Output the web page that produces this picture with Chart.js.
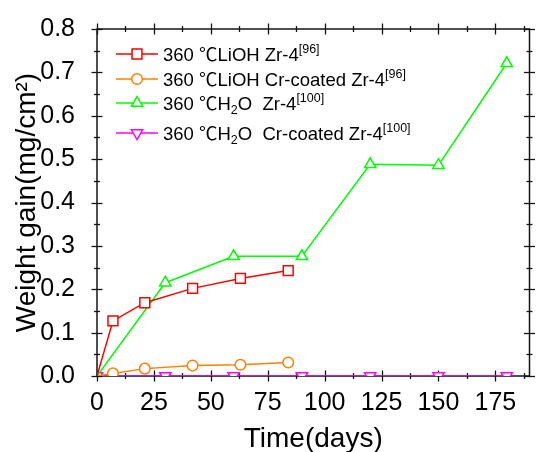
<!DOCTYPE html>
<html>
<head>
<meta charset="utf-8">
<script src="https://cdn.jsdelivr.net/npm/chart.js@4.4.1/dist/chart.umd.min.js"></script>
<style>
html, body { margin: 0; padding: 0; background: #fff; }
#wrap { width: 538px; height: 452px; }
</style>
</head>
<body>
<div id="wrap"><canvas id="graph" width="538" height="452"></canvas></div>
<script>
const red =     'rgb(255, 0, 0)'
const orange =  'rgb(255, 128, 0)'
const green =   'rgb(0, 255, 0)'
const magenta = 'rgb(255, 0, 255)'
const black =   'rgb(20, 20, 20)'
const family = '"Liberation Sans", Arial, "Noto Sans CJK SC", sans-serif'

// Time in days, LiOH runs [96] and water runs [100]
const daysLiOH = [0, 7, 21, 42, 63, 84]
const daysH2O = [0, 30, 60, 90, 120, 150, 180]

// Weight gain in mg/cm2
const gainLiOHZr4 = [0, 0.127, 0.169, 0.202, 0.225, 0.243]
const gainLiOHCr = [0, 0.006, 0.017, 0.024, 0.026, 0.031]
const gainH2OZr4 = [0, 0.215, 0.276, 0.276, 0.488, 0.486, 0.721]
const gainH2OCr = [0, 0, 0, 0, 0, 0, 0]

// axis ranges / tick steps
const xRange = [0, 190]
const xStep = 25
const yRange = [0, 0.8]
const yStep = 0.1

// legend text pieces: [text, 'n' | 'sup' | 'sub']
const legendLabels = [
    [['360 \u2103LiOH Zr-4', 'n'], ['[96]', 'sup']],
    [['360 \u2103LiOH Cr-coated Zr-4', 'n'], ['[96]', 'sup']],
    [['360 \u2103H', 'n'], ['2', 'sub'], ['O  Zr-4', 'n'], ['[100]', 'sup']],
    [['360 \u2103H', 'n'], ['2', 'sub'], ['O  Cr-coated Zr-4', 'n'], ['[100]', 'sup']],
]
const legendRowsY = [54, 79, 103, 133]

function toPoints(xs, ys) {
    return xs.map((x, i) => ({x: x, y: ys[i]}))
}

function series(label, xs, ys, color, style, radius, rotation, hideFirst) {
    return {
        label: label,
        data: toPoints(xs, ys),
        borderColor: color,
        backgroundColor: '#fff',
        borderWidth: 1.5,
        pointStyle: style,
        pointRotation: rotation,
        pointRadius: xs.map((x, i) => (hideFirst && i === 0) ? 0 : radius),
        pointBorderWidth: 1.5,
        pointBackgroundColor: '#fff',
        pointBorderColor: color,
        tension: 0,
        fill: false,
        clip: 0,
    }
}

//draws frame + crossing ticks on all four sides
const frameTicks = {
    id: 'frameTicks',
    beforeDatasetsDraw(chart) {
        const {ctx, chartArea: a, scales: {x, y}} = chart
        ctx.save()
        ctx.strokeStyle = black
        ctx.lineWidth = 1.5
        ctx.strokeRect(a.left, a.top, a.right - a.left, a.bottom - a.top)
        ctx.lineWidth = 1.3
        const major = 5.5, minor = 3
        const xs = x.ticks.map(t => t.value)
        const ys = y.ticks.map(t => t.value)
        const minorOf = (vals, step, max) => {
            let out = []
            for (const v of vals) { if (v + step / 2 <= max + 1e-9) out.push(v + step / 2) }
            return out
        }
        const line = (x1, y1, x2, y2) => { ctx.beginPath(); ctx.moveTo(x1, y1); ctx.lineTo(x2, y2); ctx.stroke() }
        const doX = (vals, len) => {
            for (const v of vals) {
                const px = Math.round(x.getPixelForValue(v)) + 0.5
                line(px, a.bottom - len, px, a.bottom + len)
                line(px, a.top - len, px, a.top + len)
            }
        }
        const doY = (vals, len) => {
            for (const v of vals) {
                const py = Math.round(y.getPixelForValue(v)) + 0.5
                line(a.left - len, py, a.left + len, py)
                line(a.right - len, py, a.right + len, py)
            }
        }
        doX(xs, major); doX(minorOf(xs, xStep, xRange[1]), minor)
        doY(ys, major); doY(minorOf(ys, yStep, yRange[1]), minor)
        ctx.restore()
    }
}

function drawMarker(ctx, style, r, rot, cx, cy) {
    ctx.beginPath()
    if (style === 'rect') {
        const s = r * Math.SQRT1_2
        ctx.rect(cx - s, cy - s, 2 * s, 2 * s)
    } else if (style === 'circle') {
        ctx.arc(cx, cy, r, 0, Math.PI * 2)
    } else {
        const dir = rot ? -1 : 1
        ctx.moveTo(cx, cy - dir * r)
        ctx.lineTo(cx + r * Math.cos(Math.PI / 6), cy + dir * r / 2)
        ctx.lineTo(cx - r * Math.cos(Math.PI / 6), cy + dir * r / 2)
        ctx.closePath()
    }
    ctx.fill()
    ctx.stroke()
}

//legend with superscripts and subscripts
const richLegend = {
    id: 'richLegend',
    afterDraw(chart) {
        const ctx = chart.ctx
        ctx.save()
        chart.data.datasets.forEach((ds, i) => {
            const cy = legendRowsY[i]
            ctx.strokeStyle = ds.borderColor
            ctx.fillStyle = '#fff'
            ctx.lineWidth = 1.5
            ctx.beginPath(); ctx.moveTo(116, cy); ctx.lineTo(158, cy); ctx.stroke()
            drawMarker(ctx, ds.pointStyle, Math.max(...ds.pointRadius), ds.pointRotation, 137, cy)
            let tx = 163
            const base = cy + 7
            ctx.fillStyle = '#000'
            ctx.textBaseline = 'alphabetic'
            for (const [txt, kind] of legendLabels[i]) {
                if (kind === 'n') { ctx.font = '18.5px ' + family; ctx.fillText(txt, tx, base) }
                else if (kind === 'sup') { ctx.font = '12.5px ' + family; ctx.fillText(txt, tx, base - 8) }
                else { ctx.font = '12.5px ' + family; ctx.fillText(txt, tx, base + 4) }
                tx += ctx.measureText(txt).width
            }
        })
        ctx.restore()
    }
}

const ctx = document.getElementById('graph')
Chart.defaults.font.family = family
Chart.defaults.color = '#000'

new Chart(ctx, {
    type: 'line',
    data: {
        datasets: [
            series('360 \u2103LiOH Zr-4', daysLiOH, gainLiOHZr4, red, 'rect', 7, 0, true),
            series('360 \u2103LiOH Cr-coated Zr-4', daysLiOH, gainLiOHCr, orange, 'circle', 5.3, 0, true),
            series('360 \u2103H2O Zr-4', daysH2O, gainH2OZr4, green, 'triangle', 6.5, 0, true),
            series('360 \u2103H2O Cr-coated Zr-4', daysH2O, gainH2OCr, magenta, 'triangle', 6.5, 180, false),
        ]
    },
    options: {
        responsive: false,
        devicePixelRatio: 1,
        animation: false,
        layout: {padding: {top: 23, right: 4, left: 0, bottom: 0}},
        plugins: {
            legend: {display: false},
            tooltip: {enabled: false},
        },
        scales: {
            x: {
                type: 'linear',
                min: xRange[0],
                max: xRange[1],
                ticks: {stepSize: xStep, includeBounds: false, font: {size: 25}, padding: 4, color: '#000'},
                grid: {display: false},
                border: {display: false},
                title: {display: true, text: 'Time(days)', font: {size: 28, lineHeight: 1}, padding: {top: 0, bottom: -1.5}, color: '#000'},
                afterFit: s => { s.height = 76 },
            },
            y: {
                min: yRange[0],
                max: yRange[1],
                ticks: {stepSize: yStep, includeBounds: false, font: {size: 25}, padding: 14, color: '#000',
                    callback: v => v.toFixed(1)},
                grid: {display: false},
                border: {display: false},
                title: {display: true, text: 'Weight gain(mg/cm\u00b2)', font: {size: 28, lineHeight: 1}, padding: {top: 13.5, bottom: 0}, color: '#000'},
                afterFit: s => { s.width = 97 },
            }
        }
    },
    plugins: [frameTicks, richLegend]
})
</script>
</body>
</html>
